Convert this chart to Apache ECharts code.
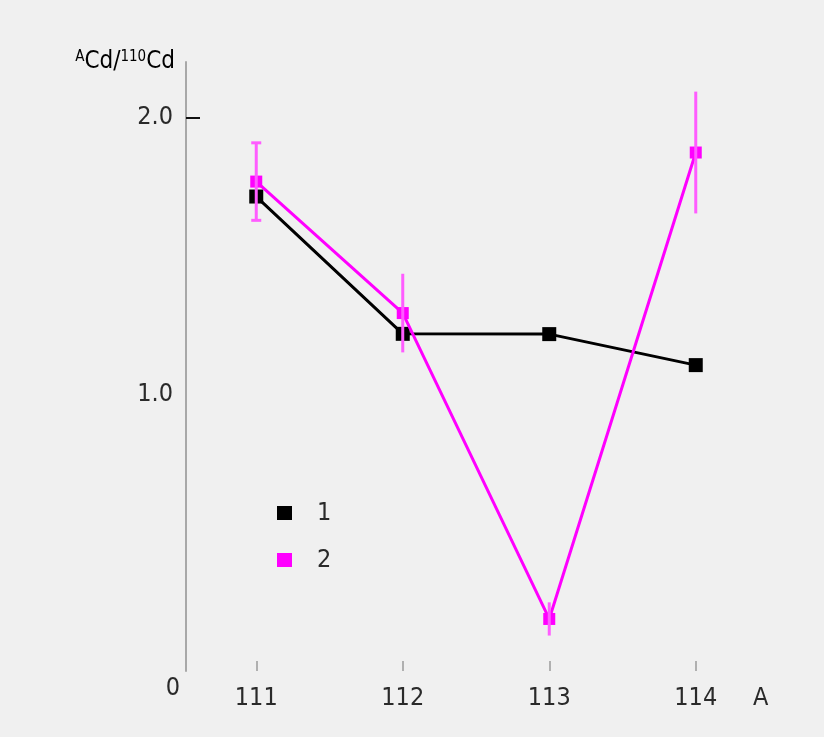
<!DOCTYPE html>
<html>
<head>
<meta charset="utf-8">
<script src="https://cdn.jsdelivr.net/npm/echarts@6/dist/echarts.min.js"></script>
<style>
  html, body { margin: 0; padding: 0; background: #f0f0f0; }
  #chart { width: 824px; height: 737px; }
</style>
</head>
<body>
<div id="chart"></div>
<script>
// Mass numbers on the x axis
const massNumbers = ['111', '112', '113', '114'];
// Isotope ratio ACd/110Cd for sample 1
const sample1 = [1.714, 1.218, 1.217, 1.105];
// Isotope ratio ACd/110Cd for sample 2, with its uncertainties
const sample2 = [1.768, 1.293, 0.188, 1.873];
const sample2Err = [0.14, 0.142, 0.06, 0.22];
// Series names shown in the legend
const seriesNames = ['1', '2'];
// Y tick labels
const yTicks = [0, 1, 2];

const FONT = "'Liberation Sans Narrow', 'DejaVu Sans Condensed', 'Liberation Sans', sans-serif";
const TEXT = '#2a2a2a';
const FS = 25;

const chart = echarts.init(document.getElementById('chart'));

const errorData = sample2.map((v, i) => [i, v - sample2Err[i], v + sample2Err[i]]);

chart.setOption({
  backgroundColor: '#f0f0f0',
  animation: false,
  grid: { left: 183, right: 55, top: 62, bottom: 66 },
  legend: {
    orient: 'vertical',
    left: 272,
    top: 494,
    icon: 'rect',
    itemWidth: 15,
    itemHeight: 14,
    itemGap: 19,
    data: seriesNames,
    textStyle: { fontFamily: FONT, fontSize: FS, color: TEXT, lineHeight: 28, padding: [0, 0, 0, 20] }
  },
  xAxis: {
    type: 'category',
    data: massNumbers,
    boundaryGap: true,
    name: 'A',
    nameLocation: 'end',
    nameGap: -16,
    nameTextStyle: { fontFamily: FONT, fontSize: FS, color: TEXT, verticalAlign: 'top', padding: [15, 0, 0, 0] },
    axisLine: { show: false },
    axisTick: { show: true, alignWithLabel: true, inside: true, length: 10, lineStyle: { color: '#b0b0b0', width: 2 } },
    axisLabel: { margin: 15, fontFamily: FONT, fontSize: FS, color: TEXT },
    splitLine: { show: false }
  },
  yAxis: {
    type: 'value',
    min: 0,
    max: 2.2,
    interval: 1,
    offset: -3,
    axisLine: { show: true, lineStyle: { color: '#a8a8a8', width: 2 } },
    axisTick: { show: true, inside: true, length: 14, customValues: [2], lineStyle: { color: '#111', width: 2 } },
    axisLabel: {
      margin: 6,
      customValues: yTicks,
      fontFamily: FONT,
      fontSize: FS,
      color: TEXT,
      formatter: v => v === 0 ? '{z|0}' : '{n|' + v.toFixed(1) + '}',
      rich: {
        z: { fontFamily: FONT, fontSize: FS, color: TEXT, padding: [34, 0, 0, 0] },
        n: { fontFamily: FONT, fontSize: FS, color: TEXT, padding: [0, 7, 0, 0] }
      }
    },
    splitLine: { show: false }
  },
  graphic: [
    {
      type: 'text',
      x: 175,
      y: 62,
      style: {
        text: '{s|A}{b|Cd/}{s|110}{b|Cd}',
        align: 'right',
        verticalAlign: 'middle',
        rich: {
          s: { fontFamily: FONT, fontSize: 15, color: TEXT, verticalAlign: 'top' },
          b: { fontFamily: FONT, fontSize: 24, color: TEXT, verticalAlign: 'bottom' }
        }
      }
    }
  ],
  series: [
    {
      name: seriesNames[0],
      type: 'line',
      data: sample1,
      symbol: 'rect',
      symbolSize: 14,
      color: '#000000',
      lineStyle: { color: '#000000', width: 3 },
      itemStyle: { color: '#000000' },
      z: 2
    },
    {
      name: seriesNames[1],
      type: 'line',
      data: sample2,
      symbol: 'rect',
      symbolSize: 12,
      color: '#ff00ff',
      lineStyle: { color: '#ff00ff', width: 3 },
      itemStyle: { color: '#ff00ff' },
      z: 3
    },
    {
      name: 'err',
      type: 'custom',
      data: errorData,
      z: 4,
      renderItem: (params, api) => {
        const lo = api.coord([api.value(0), api.value(1)]);
        const hi = api.coord([api.value(0), api.value(2)]);
        const style = { stroke: '#ff5cff', lineWidth: 3 };
        const children = [
          { type: 'line', shape: { x1: hi[0], y1: hi[1], x2: lo[0], y2: lo[1] }, style }
        ];
        if (params.dataIndex === 0) {
          const w = 5;
          children.push({ type: 'line', shape: { x1: hi[0] - w, y1: hi[1], x2: hi[0] + w, y2: hi[1] }, style });
          children.push({ type: 'line', shape: { x1: lo[0] - w, y1: lo[1], x2: lo[0] + w, y2: lo[1] }, style });
        }
        return { type: 'group', children };
      }
    }
  ]
});
</script>
</body>
</html>
